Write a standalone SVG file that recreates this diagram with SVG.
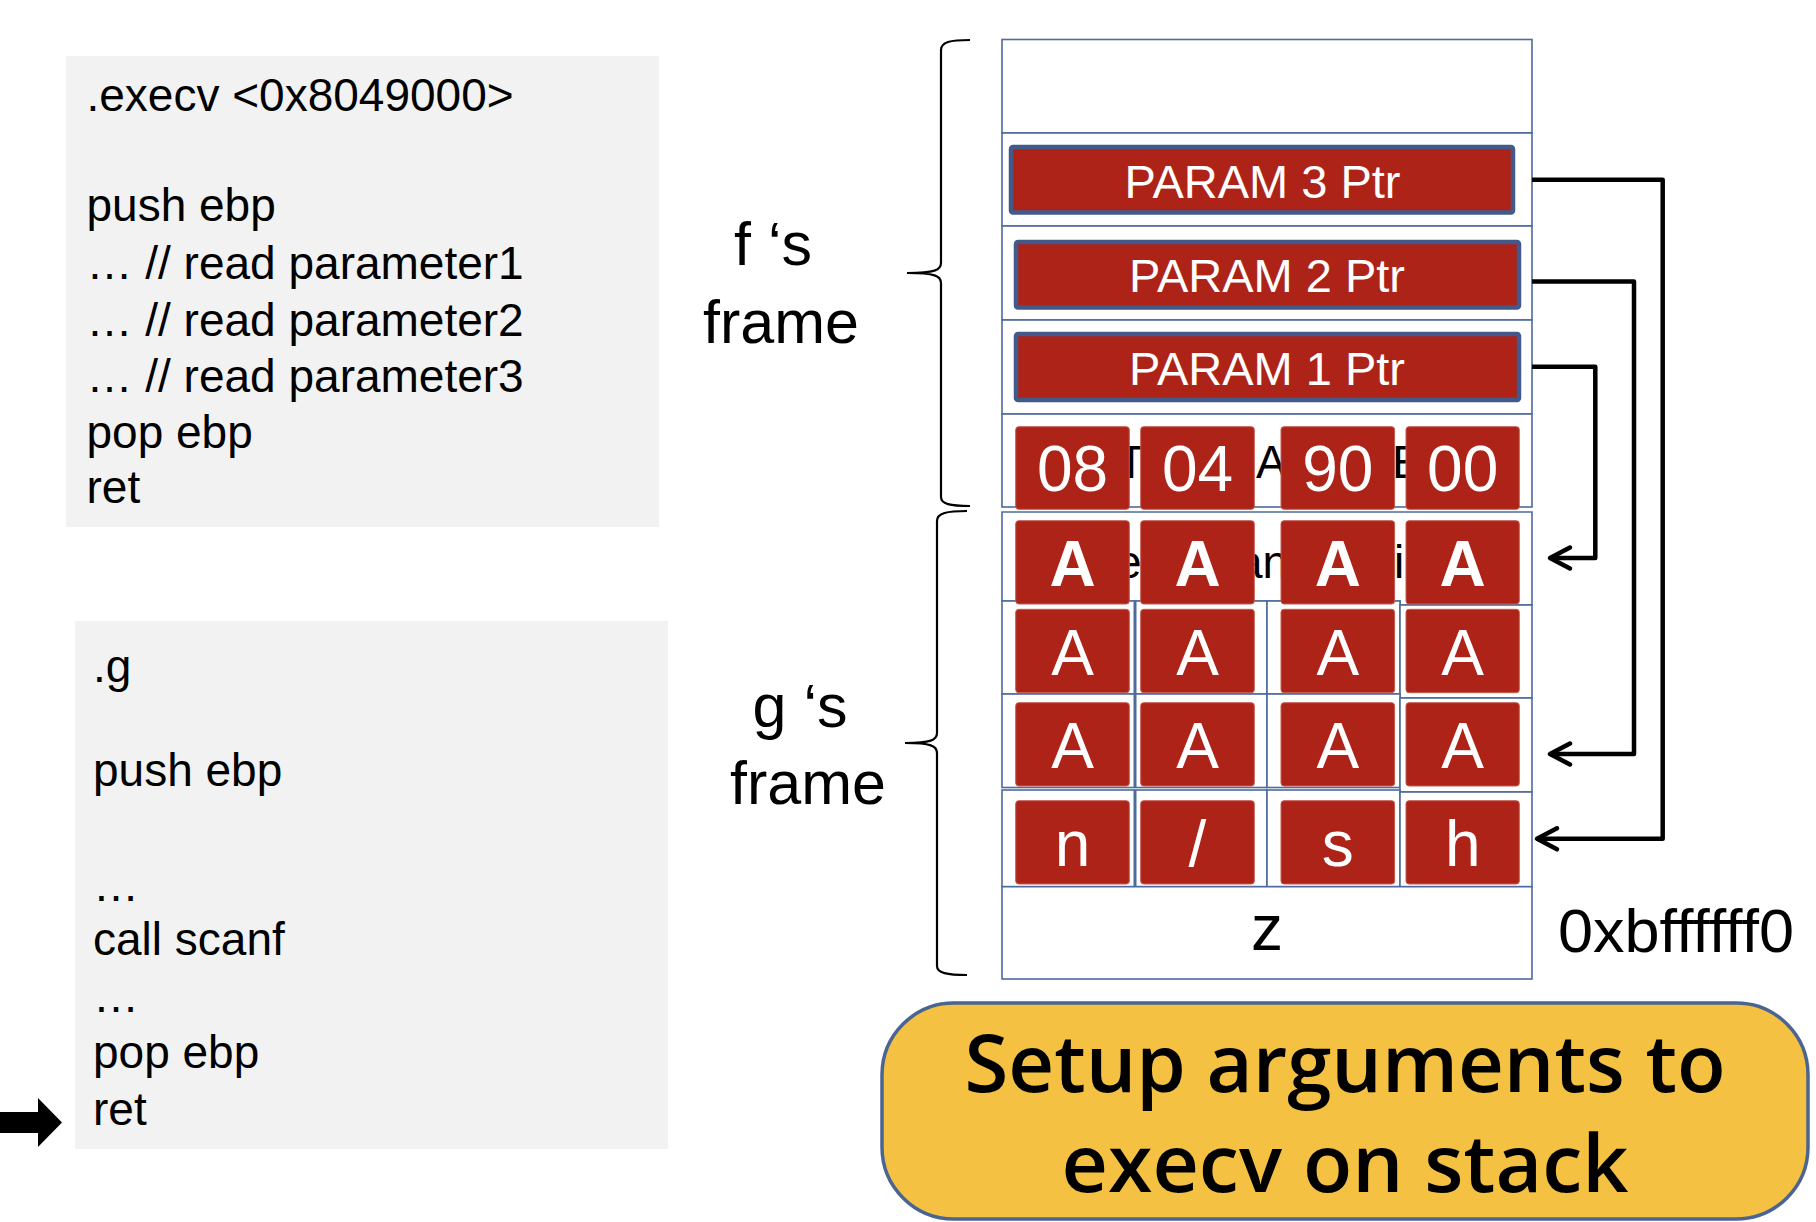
<svg xmlns="http://www.w3.org/2000/svg" width="1816" height="1222" viewBox="0 0 1816 1222">
<defs>
<style>
.codebox{fill:#f2f2f2}
.code{font-family:"Liberation Sans",Arial,sans-serif;font-size:46px;fill:#000}
.cell{fill:#fff;stroke:#4d6b9c;stroke-width:1.6}
.param{fill:#ae2318;stroke:#42598a;stroke-width:4.5}
.ptxt{font-family:"Liberation Sans",Arial,sans-serif;font-size:47px;fill:#fff;text-anchor:middle}
.byte{fill:#ae2318;stroke:#c45a52;stroke-width:1}
.btxt{font-family:"Liberation Sans",Arial,sans-serif;font-size:64px;fill:#fff;text-anchor:middle}
.bold{font-weight:bold}
.hid{font-family:"Liberation Sans",Arial,sans-serif;font-size:46px;fill:#000}
.lbl{font-family:"Liberation Sans",Arial,sans-serif;font-size:61px;fill:#000;text-anchor:middle}
.ztxt{font-family:"Liberation Sans",Arial,sans-serif;font-size:64px;fill:#000;text-anchor:middle}
.brace{fill:none;stroke:#000;stroke-width:2.2}
.conn{fill:none;stroke:#000;stroke-width:4.5;stroke-linejoin:round}
.callout{fill:#f4c142;stroke:#4a6591;stroke-width:3.5}
.ctxt{font-family:"Open Sans",sans-serif;font-size:80px;font-weight:600;fill:#000;text-anchor:middle}
</style>
<marker id="open" markerUnits="userSpaceOnUse" viewBox="-26 -14 30 28" refX="0" refY="0" markerWidth="30" markerHeight="28" orient="auto">
<path d="M -20 -10.5 L 0 0 L -20 10.5" fill="none" stroke="#000" stroke-width="4.5" stroke-linecap="round" stroke-linejoin="round"/>
</marker>
</defs>
<rect x="0" y="0" width="1816" height="1222" fill="#fff"/>

<g id="code-execv">
<rect class="codebox" x="66" y="56" width="593" height="471"/>
<text class="code" x="86.5" y="111">.execv &lt;0x8049000&gt;</text>
<text class="code" x="86.5" y="221">push ebp</text>
<text class="code" x="86.5" y="279">… // read parameter1</text>
<text class="code" x="86.5" y="336">… // read parameter2</text>
<text class="code" x="86.5" y="392">… // read parameter3</text>
<text class="code" x="86.5" y="448">pop ebp</text>
<text class="code" x="86.5" y="503">ret</text>
</g>

<g id="code-g">
<rect class="codebox" x="75" y="621" width="593" height="528"/>
<text class="code" x="93" y="682">.g</text>
<text class="code" x="93" y="786">push ebp</text>
<text class="code" x="93" y="901">…</text>
<text class="code" x="93" y="955">call scanf</text>
<text class="code" x="93" y="1012">…</text>
<text class="code" x="93" y="1068">pop ebp</text>
<text class="code" x="93" y="1125">ret</text>
</g>

<g id="pc-arrow">
<polygon points="0,1112 38,1112 38,1098 62,1122.5 38,1147 38,1133 0,1133" fill="#000"/>
</g>

<g id="label-f">
<text class="lbl" x="773" y="265">f ‘s</text>
<text class="lbl" x="781" y="343">frame</text>
<path class="brace" d="M 970 40 C 950 40 941 42 941 50 L 941 263 C 941 270 935 273 907 273 C 935 273 941 276 941 283 L 941 497 C 941 504 950 506 970 506"/>
</g>

<g id="label-g">
<text class="lbl" x="800" y="727">g ‘s</text>
<text class="lbl" x="808" y="804">frame</text>
<path class="brace" d="M 967 511 C 947 511 937 513 937 521 L 937 733 C 937 740 931 743 905 743 C 931 743 937 746 937 753 L 937 966 C 937 973 947 975 967 975"/>
</g>

<g id="stack">
<rect class="cell" x="1002" y="39.5" width="530" height="93.5"/>
<rect class="cell" x="1002" y="133" width="530" height="93"/>
<rect class="cell" x="1002" y="226" width="530" height="94"/>
<rect class="cell" x="1002" y="320" width="530" height="94"/>
<rect class="cell" x="1002" y="414" width="530" height="93"/>
<path class="cell" d="M1002 512 H1532 V605 H1400 V601 H1002 Z"/>
<rect class="cell" x="1002" y="601" width="132.3" height="93"/>
<rect class="cell" x="1135.7" y="601" width="131.3" height="93"/>
<rect class="cell" x="1267" y="601" width="133" height="93"/>
<rect class="cell" x="1400" y="605" width="132" height="93"/>
<rect class="cell" x="1002" y="694" width="132.3" height="93.5"/>
<rect class="cell" x="1135.7" y="694" width="131.3" height="93.5"/>
<rect class="cell" x="1267" y="694" width="133" height="93.5"/>
<rect class="cell" x="1400" y="698" width="132" height="94"/>
<rect class="cell" x="1002" y="790" width="132.3" height="96.7"/>
<rect class="cell" x="1135.7" y="790" width="131.3" height="96.7"/>
<rect class="cell" x="1267" y="790" width="133" height="96.7"/>
<rect class="cell" x="1400" y="792" width="132" height="94.7"/>
<rect class="cell" x="1002" y="886.7" width="530" height="92.3"/>
<text class="ztxt" x="1267" y="950">z</text>
<text class="hid" x="1117" y="478">T</text>
<text class="hid" x="1256" y="478">A</text>
<text class="hid" x="1392" y="478">E</text>
<text class="hid" x="1116" y="578">e</text>
<text class="hid" x="1237" y="578">an</text>
<text class="hid" x="1394" y="578">i</text>
</g>

<g id="param3">
<rect class="param" x="1011" y="147" width="502" height="65.5" rx="2"/>
<text class="ptxt" x="1262.5" y="198">PARAM 3 Ptr</text>
</g>
<g id="param2">
<rect class="param" x="1016" y="242" width="503" height="65.5" rx="2"/>
<text class="ptxt" x="1267" y="292">PARAM 2 Ptr</text>
</g>
<g id="param1">
<rect class="param" x="1016" y="334" width="503" height="66" rx="2"/>
<text class="ptxt" x="1267" y="384.5">PARAM 1 Ptr</text>
</g>

<g id="bytes-ret">
<rect class="byte" x="1015.7" y="426.7" width="113.6" height="82.6" rx="3"/>
<rect class="byte" x="1140.7" y="426.7" width="113.6" height="82.6" rx="3"/>
<rect class="byte" x="1281" y="426.7" width="113.6" height="82.6" rx="3"/>
<rect class="byte" x="1406" y="426.7" width="113.3" height="82.6" rx="3"/>
<text class="btxt" x="1072.5" y="491">08</text>
<text class="btxt" x="1197.5" y="491">04</text>
<text class="btxt" x="1337.8" y="491">90</text>
<text class="btxt" x="1462.7" y="491">00</text>
</g>

<g id="bytes-row5">
<rect class="byte" x="1015.7" y="520.7" width="113.6" height="83.3" rx="3"/>
<rect class="byte" x="1140.7" y="520.7" width="113.6" height="83.3" rx="3"/>
<rect class="byte" x="1281" y="520.7" width="113.6" height="83.3" rx="3"/>
<rect class="byte" x="1406" y="520.7" width="113.3" height="83.3" rx="3"/>
<text class="btxt bold" x="1072.5" y="586">A</text>
<text class="btxt bold" x="1197.5" y="586">A</text>
<text class="btxt bold" x="1337.8" y="586">A</text>
<text class="btxt bold" x="1462.7" y="586">A</text>
</g>

<g id="bytes-row6">
<rect class="byte" x="1015.7" y="609.3" width="113.6" height="83.4" rx="3"/>
<rect class="byte" x="1140.7" y="609.3" width="113.6" height="83.4" rx="3"/>
<rect class="byte" x="1281" y="609.3" width="113.6" height="83.4" rx="3"/>
<rect class="byte" x="1406" y="609.3" width="113.3" height="83.4" rx="3"/>
<text class="btxt" x="1072.5" y="675">A</text>
<text class="btxt" x="1197.5" y="675">A</text>
<text class="btxt" x="1337.8" y="675">A</text>
<text class="btxt" x="1462.7" y="675">A</text>
</g>

<g id="bytes-row7">
<rect class="byte" x="1015.7" y="702.7" width="113.6" height="83.3" rx="3"/>
<rect class="byte" x="1140.7" y="702.7" width="113.6" height="83.3" rx="3"/>
<rect class="byte" x="1281" y="702.7" width="113.6" height="83.3" rx="3"/>
<rect class="byte" x="1406" y="702.7" width="113.3" height="83.3" rx="3"/>
<text class="btxt" x="1072.5" y="768">A</text>
<text class="btxt" x="1197.5" y="768">A</text>
<text class="btxt" x="1337.8" y="768">A</text>
<text class="btxt" x="1462.7" y="768">A</text>
</g>

<g id="bytes-row8">
<rect class="byte" x="1015.7" y="800.7" width="113.6" height="83.3" rx="3"/>
<rect class="byte" x="1140.7" y="800.7" width="113.6" height="83.3" rx="3"/>
<rect class="byte" x="1281" y="800.7" width="113.6" height="83.3" rx="3"/>
<rect class="byte" x="1406" y="800.7" width="113.3" height="83.3" rx="3"/>
<text class="btxt" x="1072.5" y="866">n</text>
<text class="btxt" x="1197.5" y="866">/</text>
<text class="btxt" x="1337.8" y="866">s</text>
<text class="btxt" x="1462.7" y="866">h</text>
</g>

<g id="addr-label">
<text x="1558" y="952" font-family="Liberation Sans, Arial, sans-serif" font-size="62" fill="#000" textLength="236" lengthAdjust="spacingAndGlyphs">0xbffffff0</text>
</g>

<g id="connectors">
<path class="conn" d="M 1532 179.7 H 1662.7 V 838.8 H 1537" marker-end="url(#open)"/>
<path class="conn" d="M 1532 281.5 H 1634 V 754 H 1550" marker-end="url(#open)"/>
<path class="conn" d="M 1532 366.7 H 1595.3 V 558 H 1550" marker-end="url(#open)"/>
</g>

<g id="callout">
<rect class="callout" x="882" y="1003" width="926" height="216" rx="72"/>
<text class="ctxt" x="1345" y="1092" textLength="761" lengthAdjust="spacingAndGlyphs">Setup arguments to</text>
<text class="ctxt" x="1345" y="1192" textLength="567" lengthAdjust="spacingAndGlyphs">execv on stack</text>
</g>
</svg>
